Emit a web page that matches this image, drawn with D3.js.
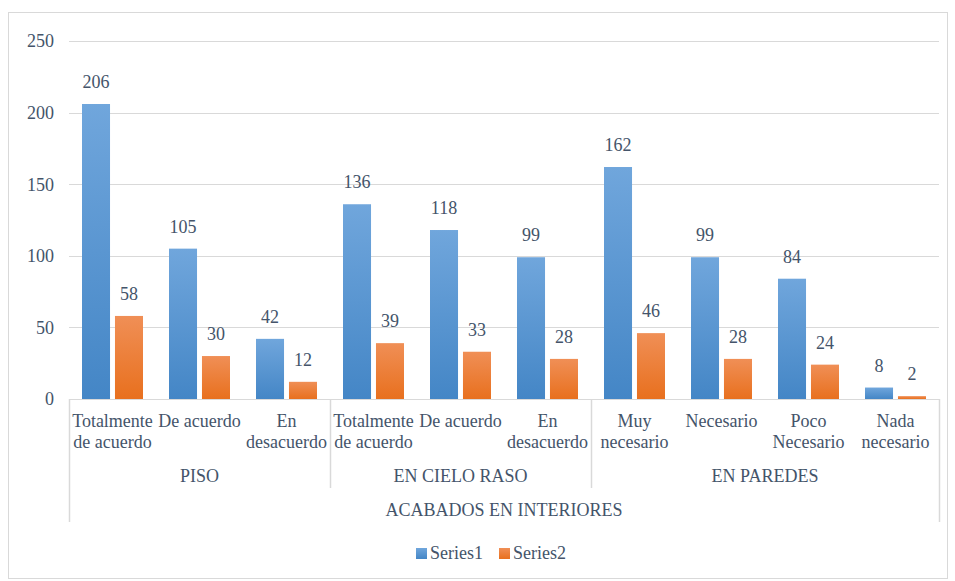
<!DOCTYPE html>
<html>
<head>
<meta charset="utf-8">
<script src="https://cdn.jsdelivr.net/npm/d3@7"></script>
<style>
  body { margin: 0; background: #ffffff; }
</style>
</head>
<body>
<script>
// data
const categories = ["Totalmente\nde acuerdo", "De acuerdo", "En\ndesacuerdo",
  "Totalmente\nde acuerdo", "De acuerdo", "En\ndesacuerdo",
  "Muy\nnecesario", "Necesario", "Poco\nNecesario", "Nada\nnecesario"];
const groups = ["PISO", "EN CIELO RASO", "EN PAREDES"];
const groupSizes = [3, 3, 4];
const outerLabel = "ACABADOS EN INTERIORES";
const seriesNames = ["Series1", "Series2"];
const series1 = [206, 105, 42, 136, 118, 99, 162, 99, 84, 8];
const series2 = [58, 30, 12, 39, 33, 28, 46, 28, 24, 2];
const yTicks = [0, 50, 100, 150, 200, 250];

const FONT = "'Liberation Serif', 'Times New Roman', 'DejaVu Serif', serif";
const TEXT = "#44546a";

const chart = () => {
  const width = 955;
  const height = 581;
  const left = 69, right = 939, top = 41, bottom = 399;
  const gridColor = "#d9d9d9";

  const svg = d3.select("body").append("svg").attr("width", width).attr("height", height)
    .style("font-family", FONT);

  // gradients like the excel fill
  const defs = svg.append("defs");
  const grads = [["g0", "#70a6dc", "#4486c6"], ["g1", "#f08f56", "#e8701e"]];
  grads.forEach(g => {
    const lg = defs.append("linearGradient").attr("id", g[0]).attr("x1", 0).attr("y1", 0).attr("x2", 0).attr("y2", 1);
    lg.append("stop").attr("offset", "0%").attr("stop-color", g[1]);
    lg.append("stop").attr("offset", "100%").attr("stop-color", g[2]);
  });

  // outer frame
  svg.append("rect").attr("x", 8.5).attr("y", 12.5).attr("width", 939).attr("height", 566)
    .attr("fill", "none").attr("stroke", gridColor);

  const x = d3.scaleBand().domain(d3.range(categories.length)).range([left, right]).padding(0);
  const x1 = d3.scaleBand().domain([0, 1]).range([13, 74]).paddingInner(0.15);
  const y = d3.scaleLinear().domain([0, 250]).range([bottom, top]);

  // grid
  svg.append("g").selectAll("line").data(yTicks).enter().append("line")
    .attr("x1", left).attr("x2", right)
    .attr("y1", d => Math.round(y(d)) + 0.5).attr("y2", d => Math.round(y(d)) + 0.5)
    .attr("stroke", gridColor).attr("stroke-width", 1);

  const yAxis = svg.append("g").attr("transform", `translate(${left - 15},0)`)
    .call(d3.axisLeft(y).tickValues(yTicks).tickSize(0).tickPadding(0));
  yAxis.attr("font-family", null).attr("font-size", null);
  yAxis.select(".domain").remove();
  yAxis.selectAll("text").style("font-family", FONT).style("font-size", "18px").attr("fill", TEXT)
    .attr("dy", "0.33em");

  // bars
  const allSeries = [series1, series2];
  allSeries.forEach((vals, s) => {
    const g = svg.append("g");
    g.selectAll("rect").data(vals).enter().append("rect")
      .attr("x", (d, i) => x(i) + x1(s))
      .attr("y", d => y(d))
      .attr("width", x1.bandwidth())
      .attr("height", d => y(0) - y(d))
      .attr("fill", `url(#g${s})`);
    g.selectAll("text").data(vals).enter().append("text")
      .attr("x", (d, i) => x(i) + x1(s) + x1.bandwidth() / 2)
      .attr("y", d => y(d) - 16)
      .attr("text-anchor", "middle").attr("font-size", 18).attr("fill", TEXT)
      .text(d => d);
  });

  // category axis
  const axis = svg.append("g").attr("fill", TEXT).attr("font-size", 18);
  axis.append("line").attr("x1", left).attr("x2", right).attr("y1", bottom + 0.5).attr("y2", bottom + 0.5)
    .attr("stroke", gridColor);
  axis.selectAll("line.outer").data([left, right]).enter().append("line")
    .attr("x1", d => d + 0.5).attr("x2", d => d + 0.5).attr("y1", bottom).attr("y2", 522)
    .attr("stroke", gridColor).attr("stroke-width", 1.5);

  let start = 0;
  groups.forEach((gname, gi) => {
    const end = start + groupSizes[gi];
    const gx0 = x(start), gx1 = x(end - 1) + x.bandwidth();
    if (gi > 0) {
      axis.append("line").attr("x1", gx0 + 0.5).attr("x2", gx0 + 0.5).attr("y1", bottom).attr("y2", 488)
        .attr("stroke", gridColor).attr("stroke-width", 1.5);
    }
    axis.append("text").attr("x", (gx0 + gx1) / 2).attr("y", 482)
      .attr("text-anchor", "middle").text(gname);
    start = end;
  });

  categories.forEach((c, i) => {
    const lines = c.split("\n");
    const t = axis.append("text").attr("x", x(i) + x.bandwidth() / 2).attr("y", 427)
      .attr("text-anchor", "middle");
    lines.forEach((l, k) => {
      t.append("tspan").attr("x", x(i) + x.bandwidth() / 2).attr("dy", k === 0 ? 0 : 21).text(l);
    });
  });

  axis.append("text").attr("x", (left + right) / 2).attr("y", 516)
    .attr("text-anchor", "middle").text(outerLabel);

  // legend
  const legend = svg.append("g").selectAll("g").data(seriesNames).enter().append("g")
    .attr("transform", (d, i) => `translate(${416 + i * 83},548)`);
  legend.append("rect").attr("width", 11).attr("height", 11).attr("fill", (d, i) => `url(#g${i})`);
  legend.append("text").attr("x", 14).attr("y", 11).attr("font-size", 18).attr("fill", TEXT).text(d => d);
}

chart();
</script>
</body>
</html>
